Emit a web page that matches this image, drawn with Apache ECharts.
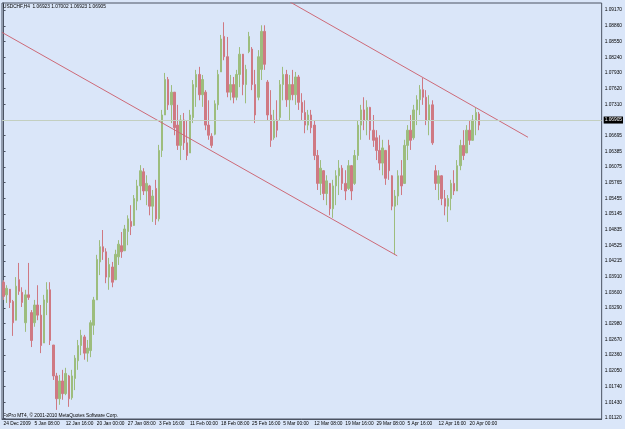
<!DOCTYPE html>
<html>
<head>
<meta charset="utf-8">
<script src="https://cdn.jsdelivr.net/npm/echarts@6/dist/echarts.min.js"></script>
<style>
  html, body { margin: 0; padding: 0; background: #dae6f9; }
  #chart { width: 625px; height: 429px; }
</style>
</head>
<body>
<div id="chart"></div>
<script>
// time labels shown on the bottom axis, one every labelStep slots
const timeLabels = [
  "24 Dec 2009", "5 Jan 08:00", "12 Jan 16:00", "20 Jan 00:00", "27 Jan 08:00",
  "3 Feb 16:00", "11 Feb 00:00", "18 Feb 08:00", "25 Feb 16:00", "5 Mar 00:00",
  "12 Mar 08:00", "19 Mar 16:00", "29 Mar 08:00", "5 Apr 16:00", "12 Apr 16:00",
  "20 Apr 00:00"
];
const labelStep = 10;
const slotCount = 193;

// [open, close, low, high]
const candles = [
  [1.0380, 1.0352, 1.0345, 1.0384], [1.0355, 1.0368, 1.0339, 1.0374], [1.0366, 1.0340, 1.0329, 1.0365],
  [1.0342, 1.0300, 1.0274, 1.0345], [1.0305, 1.0372, 1.0335, 1.0390], [1.0385, 1.0362, 1.0355, 1.0418],
  [1.0360, 1.0340, 1.0331, 1.0370], [1.0300, 1.0355, 1.0282, 1.0365], [1.0355, 1.0350, 1.0345, 1.0418],
  [1.0320, 1.0265, 1.0252, 1.0325], [1.0300, 1.0335, 1.0292, 1.0345], [1.0335, 1.0315, 1.0305, 1.0374],
  [1.0315, 1.0255, 1.0240, 1.0335], [1.0260, 1.0345, 1.0286, 1.0355], [1.0340, 1.0365, 1.0315, 1.0380],
  [1.0365, 1.0265, 1.0256, 1.0380], [1.0256, 1.0195, 1.0187, 1.0256], [1.0195, 1.0150, 1.0128, 1.0201],
  [1.0150, 1.0185, 1.0138, 1.0197], [1.0185, 1.0160, 1.0148, 1.0207], [1.0160, 1.0200, 1.0157, 1.0211],
  [1.0195, 1.0150, 1.0134, 1.0197], [1.0152, 1.0195, 1.0148, 1.0207], [1.0190, 1.0230, 1.0167, 1.0236],
  [1.0225, 1.0255, 1.0207, 1.0266], [1.0255, 1.0275, 1.0236, 1.0286], [1.0272, 1.0240, 1.0227, 1.0276],
  [1.0240, 1.0250, 1.0223, 1.0266], [1.0245, 1.0300, 1.0232, 1.0305], [1.0295, 1.0345, 1.0276, 1.0351],
  [1.0345, 1.0425, 1.0345, 1.0434], [1.0420, 1.0450, 1.0394, 1.0463], [1.0450, 1.0440, 1.0424, 1.0483],
  [1.0440, 1.0390, 1.0378, 1.0447], [1.0390, 1.0415, 1.0365, 1.0428], [1.0410, 1.0380, 1.0370, 1.0420],
  [1.0385, 1.0435, 1.0384, 1.0444], [1.0430, 1.0455, 1.0414, 1.0463], [1.0452, 1.0440, 1.0428, 1.0479],
  [1.0442, 1.0485, 1.0444, 1.0493], [1.0480, 1.0505, 1.0453, 1.0512], [1.0500, 1.0490, 1.0473, 1.0532],
  [1.0492, 1.0545, 1.0493, 1.0552], [1.0540, 1.0570, 1.0522, 1.0582], [1.0570, 1.0600, 1.0542, 1.0611],
  [1.0598, 1.0560, 1.0552, 1.0605], [1.0560, 1.0575, 1.0532, 1.0591], [1.0570, 1.0530, 1.0512, 1.0572],
  [1.0530, 1.0550, 1.0499, 1.0562], [1.0565, 1.0505, 1.0493, 1.0582], [1.0505, 1.0640, 1.0500, 1.0651],
  [1.0640, 1.0710, 1.0627, 1.0720], [1.0710, 1.0780, 1.0710, 1.0793], [1.0780, 1.0730, 1.0720, 1.0785],
  [1.0730, 1.0755, 1.0694, 1.0769], [1.0755, 1.0685, 1.0670, 1.0745], [1.0690, 1.0650, 1.0641, 1.0730],
  [1.0650, 1.0700, 1.0621, 1.0710], [1.0700, 1.0655, 1.0641, 1.0714], [1.0655, 1.0630, 1.0621, 1.0700],
  [1.0635, 1.0710, 1.0641, 1.0720], [1.0705, 1.0770, 1.0694, 1.0779], [1.0765, 1.0790, 1.0726, 1.0799],
  [1.0790, 1.0750, 1.0739, 1.0805], [1.0750, 1.0780, 1.0726, 1.0789], [1.0755, 1.0690, 1.0680, 1.0759],
  [1.0690, 1.0670, 1.0661, 1.0739], [1.0668, 1.0650, 1.0645, 1.0674], [1.0672, 1.0732, 1.0670, 1.0739],
  [1.0730, 1.0790, 1.0720, 1.0799], [1.0795, 1.0860, 1.0799, 1.0868], [1.0865, 1.0825, 1.0818, 1.0893],
  [1.0825, 1.0755, 1.0745, 1.0864], [1.0755, 1.0770, 1.0739, 1.0789], [1.0770, 1.0745, 1.0733, 1.0785],
  [1.0745, 1.0790, 1.0739, 1.0799], [1.0790, 1.0830, 1.0765, 1.0844], [1.0830, 1.0770, 1.0749, 1.0818],
  [1.0770, 1.0800, 1.0733, 1.0809], [1.0835, 1.0865, 1.0832, 1.0874], [1.0840, 1.0770, 1.0759, 1.0844],
  [1.0770, 1.0710, 1.0694, 1.0799], [1.0745, 1.0825, 1.0739, 1.0838], [1.0800, 1.0875, 1.0779, 1.0887],
  [1.0875, 1.0810, 1.0799, 1.0887], [1.0775, 1.0710, 1.0700, 1.0779], [1.0710, 1.0660, 1.0647, 1.0759],
  [1.0665, 1.0700, 1.0661, 1.0720], [1.0700, 1.0680, 1.0666, 1.0739], [1.0705, 1.0770, 1.0700, 1.0779],
  [1.0770, 1.0790, 1.0739, 1.0805], [1.0790, 1.0740, 1.0726, 1.0799], [1.0740, 1.0770, 1.0700, 1.0789],
  [1.0770, 1.0750, 1.0739, 1.0799], [1.0750, 1.0785, 1.0730, 1.0795], [1.0785, 1.0735, 1.0720, 1.0789],
  [1.0735, 1.0715, 1.0700, 1.0753], [1.0715, 1.0690, 1.0674, 1.0739], [1.0690, 1.0710, 1.0680, 1.0720],
  [1.0710, 1.0685, 1.0674, 1.0720], [1.0690, 1.0630, 1.0621, 1.0700], [1.0630, 1.0575, 1.0562, 1.0641],
  [1.0575, 1.0605, 1.0552, 1.0621], [1.0600, 1.0555, 1.0542, 1.0601], [1.0555, 1.0580, 1.0532, 1.0591],
  [1.0575, 1.0525, 1.0512, 1.0572], [1.0525, 1.0570, 1.0507, 1.0582], [1.0570, 1.0590, 1.0532, 1.0601],
  [1.0590, 1.0605, 1.0552, 1.0621], [1.0605, 1.0575, 1.0562, 1.0611], [1.0575, 1.0560, 1.0542, 1.0601],
  [1.0565, 1.0610, 1.0562, 1.0621], [1.0610, 1.0560, 1.0542, 1.0611], [1.0575, 1.0630, 1.0572, 1.0641],
  [1.0630, 1.0690, 1.0621, 1.0700], [1.0690, 1.0720, 1.0661, 1.0730], [1.0720, 1.0700, 1.0680, 1.0745],
  [1.0700, 1.0725, 1.0670, 1.0739], [1.0725, 1.0680, 1.0661, 1.0726], [1.0680, 1.0660, 1.0647, 1.0710],
  [1.0665, 1.0640, 1.0621, 1.0680], [1.0640, 1.0615, 1.0601, 1.0670], [1.0615, 1.0645, 1.0591, 1.0661],
  [1.0640, 1.0585, 1.0572, 1.0641], [1.0650, 1.0600, 1.0582, 1.0661], [1.0590, 1.0530, 1.0522, 1.0591],
  [1.0530, 1.0550, 1.0434, 1.0562], [1.0550, 1.0590, 1.0532, 1.0601], [1.0590, 1.0570, 1.0552, 1.0621],
  [1.0575, 1.0650, 1.0582, 1.0661], [1.0650, 1.0680, 1.0621, 1.0690], [1.0680, 1.0660, 1.0641, 1.0710],
  [1.0665, 1.0720, 1.0661, 1.0730], [1.0720, 1.0740, 1.0690, 1.0749], [1.0740, 1.0760, 1.0710, 1.0769],
  [1.0760, 1.0745, 1.0730, 1.0783], [1.0745, 1.0700, 1.0690, 1.0759], [1.0700, 1.0730, 1.0670, 1.0749],
  [1.0730, 1.0655, 1.0651, 1.0739], [1.0600, 1.0575, 1.0562, 1.0611], [1.0575, 1.0590, 1.0542, 1.0601],
  [1.0590, 1.0545, 1.0532, 1.0591], [1.0545, 1.0530, 1.0512, 1.0562], [1.0530, 1.0545, 1.0499, 1.0552],
  [1.0545, 1.0575, 1.0522, 1.0582], [1.0575, 1.0560, 1.0552, 1.0601], [1.0560, 1.0610, 1.0562, 1.0621],
  [1.0610, 1.0650, 1.0601, 1.0661], [1.0650, 1.0630, 1.0621, 1.0680], [1.0635, 1.0680, 1.0641, 1.0690],
  [1.0680, 1.0660, 1.0651, 1.0700], [1.0660, 1.0700, 1.0661, 1.0710], [1.0700, 1.0715, 1.0670, 1.0724],
  [1.0712, 1.0690, 1.0680, 1.0716]
];

const priceTicks = [
  1.01120, 1.01430, 1.01740, 1.02050, 1.02360, 1.02670, 1.02980, 1.03290, 1.03600,
  1.03910, 1.04215, 1.04525, 1.04835, 1.05145, 1.05455, 1.05765, 1.06075, 1.06385,
  1.06695, 1.07310, 1.07620, 1.07930, 1.08240, 1.08550, 1.08860, 1.09170
];
const lastPrice = 1.06905;
const headerQuote = [1.06923, 1.07002, 1.06923, 1.06905];

// channel lines, [slot, price]
const upperTrend = [[92.2, 1.0933], [168.8, 1.0666]];
const lowerTrend = [[-0.5, 1.0873], [126.7, 1.0432]];

const categories = [];
for (let i = 0; i < slotCount; i++) {
  categories.push(i % labelStep === 0 ? (timeLabels[i / labelStep] || "") : "");
}
const hasLabel = (idx, val) => val !== "";

const font = "Liberation Sans";
const small = 4.8;
const axisColor = "#4b5363";
const up = "#9dbd7e";
const down = "#cf7983";

const chart = echarts.init(document.getElementById("chart"));
chart.setOption({
  animation: false,
  backgroundColor: "#dae6f9",
  title: {
    text: "USDCHF,H4  " + headerQuote.map(v => v.toFixed(5)).join(" "),
    left: 3, top: 4, padding: 0,
    textStyle: { fontSize: small, fontWeight: "normal", color: "#000", fontFamily: font }
  },
  graphic: [{
    type: "text", left: 3, top: 413,
    style: { text: "FxPro MT4, © 2001-2010 MetaQuotes Software Corp.", fontSize: small, fill: "#000", fontFamily: font }
  }],
  grid: { left: 2, right: 19, top: 3, bottom: 10, show: true, borderColor: axisColor, borderWidth: 1 },
  xAxis: [
    {
      type: "category", data: categories, boundaryGap: true,
      axisLine: { lineStyle: { color: axisColor } },
      axisTick: { interval: hasLabel, alignWithLabel: true, length: 2, lineStyle: { color: axisColor } },
      axisLabel: { interval: hasLabel, align: "left", margin: 2, fontSize: small, color: "#000", fontFamily: font },
      splitLine: { show: false }
    },
    { type: "value", min: -0.5, max: slotCount - 0.5, show: false }
  ],
  yAxis: {
    type: "value", position: "right", min: 1.0110, max: 1.0931,
    axisLine: { show: true, lineStyle: { color: axisColor } },
    axisTick: { show: true, customValues: priceTicks, length: 2, lineStyle: { color: axisColor } },
    axisLabel: {
      customValues: priceTicks, formatter: v => v.toFixed(5), hideOverlap: false,
      showMinLabel: true, showMaxLabel: true,
      margin: 3, fontSize: small, color: "#000", fontFamily: font
    },
    splitLine: { show: false }
  },
  series: [
    {
      type: "candlestick", data: candles, barWidth: 2,
      itemStyle: { color: up, color0: down, borderColor: up, borderColor0: down, borderWidth: 1 },
      markLine: {
        silent: true, symbol: "none",
        data: [{ yAxis: lastPrice }],
        lineStyle: { color: "#c3cfc0", type: "solid", width: 1 },
        label: {
          position: "end", formatter: lastPrice.toFixed(5), distance: 2,
          backgroundColor: "#000", color: "#fff", fontSize: small, padding: [1, 1], fontFamily: font
        }
      }
    },
    {
      type: "line", xAxisIndex: 1, data: upperTrend, symbol: "none", silent: true,
      lineStyle: { color: "#cd6a78", width: 1 }
    },
    {
      type: "line", xAxisIndex: 1, data: lowerTrend, symbol: "none", silent: true,
      lineStyle: { color: "#cd6a78", width: 1 }
    }
  ]
});
</script>
</body>
</html>
